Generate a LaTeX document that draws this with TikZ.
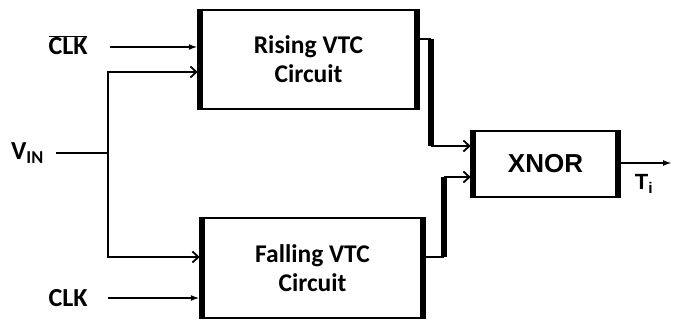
\documentclass[tikz,border=0pt]{standalone}
\usepackage{fontspec}
\setmainfont{Carlito}
\newfontfamily\arialfont{Liberation Sans}
\usetikzlibrary{arrows.meta,positioning}

\begin{document}
\begin{tikzpicture}[x=1pt,y=-1pt,font=\bfseries\fontsize{25.5}{29}\selectfont]
\tikzstyle{box}=[draw,line width=2.5pt,align=center,inner sep=0pt]
\tikzstyle{edge}=[line width=6pt]
\tikzstyle{wire}=[line width=1.8pt]
\tikzstyle{bus}=[line width=6pt]
\tikzstyle{fin}=[-{Latex[length=9pt,width=6pt]},shorten >=2pt]
\tikzstyle{barb}=[-{Straight Barb[length=6pt,width=11pt]},shorten >=2pt]
\tikzstyle{pin}=[font=\bfseries\fontsize{26}{29}\selectfont,inner sep=2pt]
\useasboundingbox (0,0) rectangle (680,320);
\node[box,minimum width=215,minimum height=99] (rise) at (308.5,59.5) {Rising VTC\\Circuit};
\node[box,minimum width=219,minimum height=100] (fall) at (312.5,268) {Falling VTC\\Circuit};
\node[box,minimum width=143,minimum height=66,font=\arialfont\bfseries\fontsize{26}{28}\selectfont] (xnor) at (545.5,164) {XNOR};
\foreach \b in {rise,fall,xnor}
  \draw[edge] (\b.north west) -- (\b.south west) (\b.north east) -- (\b.south east);
% inputs
\node[pin] (clkb) at (68,45) {$\overline{\mbox{CLK}}$};
\node[pin,anchor=east] (vin) at (46,153) {V\textsubscript{IN}};
\node[pin] (clk) at (68,298) {CLK};
\coordinate (split) at (108,153);
\draw[wire,fin] ([xshift=20pt,yshift=-2pt]clkb.east) -- (rise.west |- 0,47);
\draw[wire] ([xshift=10pt]vin.east) -- (split);
\draw[wire,barb] (split) |- ([yshift=-12.5pt]rise.west);
\draw[wire,barb] (split) |- ([yshift=11pt]fall.west);
\draw[wire,fin] ([xshift=18pt]clk.east) -- (fall.west |- clk.east);
% outputs into the XNOR
\coordinate (rout) at ([yshift=20.5pt]rise.east);
\coordinate (fout) at ([yshift=11pt]fall.east);
\coordinate (xin1) at ([yshift=18pt]xnor.west);
\coordinate (xin2) at ([yshift=-13pt]xnor.west);
\draw[wire] (rout) -- ++(14,0) coordinate (rb);
\draw[bus] (rb) -- (rb |- xin1);
\draw[wire,barb] (rb |- xin1) -- (xin1);
\draw[wire] (fout) -- ++(21,0) coordinate (fb);
\draw[bus] (fb) -- (fb |- xin2);
\draw[wire,barb] (fb |- xin2) -- (xin2);
\coordinate (xout) at (674,163);
\draw[wire,fin] (xnor.east |- xout) -- (xout);
\node[font=\arialfont\bfseries\fontsize{22}{24}\selectfont] (ti) at (644,184) {T\textsubscript{i}};
\end{tikzpicture}
\end{document}
